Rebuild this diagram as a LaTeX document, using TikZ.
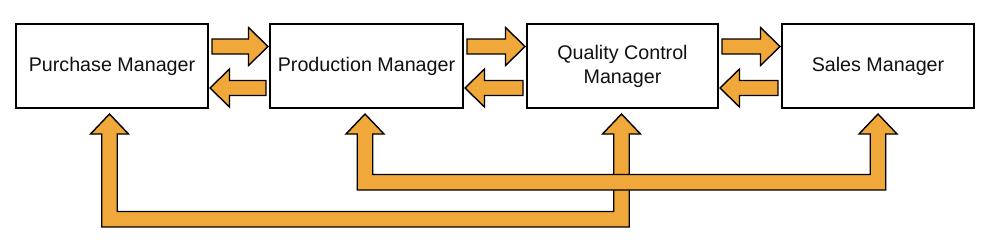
\documentclass[tikz,border=0pt]{standalone}
\usepackage{fontspec}
\setmainfont{Liberation Sans}
\usetikzlibrary{calc}
\definecolor{fatorange}{RGB}{240,168,58}
\definecolor{inkblack}{RGB}{17,17,17}
\tikzset{
  box/.style={draw=black, line width=2pt, fill=white, minimum width=192pt,
    minimum height=84pt, inner sep=2pt, align=center, text=inkblack,
    font=\fontsize{19.7}{24}\selectfont},
  fat/.style={draw=black, line width=1.4pt, fill=fatorange, line join=miter}
}
% horizontal fat arrow: #1 tail point, #2 tip point (same height)
\newcommand\hfat[2]{%
  \draw[fat] let \p1=(#1), \p2=(#2), \p3=($(#2)!19.5pt!(#1)$) in
    (\x1,\y1+7.5pt) -- (\x3,\y1+7.5pt) -- (\x3,\y1+19pt) -- (\x2,\y2)
    -- (\x3,\y1-19pt) -- (\x3,\y1-7.5pt) -- (\x1,\y1-7.5pt) -- cycle;}
% U-shaped fat arrow with two upward heads: #1 left tip, #2 right tip, #3 depth of band bottom below tips
\newcommand\ufat[3]{%
  \draw[fat] let \p1=(#1), \p2=(#2) in
    (\x1,\y1) -- (\x1+19pt,\y1-20pt) -- (\x1+7.75pt,\y1-20pt)
    -- (\x1+7.75pt,\y1-#3+15.5pt) -- (\x2-7.75pt,\y1-#3+15.5pt)
    -- (\x2-7.75pt,\y2-20pt) -- (\x2-19pt,\y2-20pt) -- (\x2,\y2)
    -- (\x2+19pt,\y2-20pt) -- (\x2+7.75pt,\y2-20pt) -- (\x2+7.75pt,\y1-#3)
    -- (\x1-7.75pt,\y1-#3) -- (\x1-7.75pt,\y1-20pt) -- (\x1-19pt,\y1-20pt) -- cycle;}
\begin{document}
\begin{tikzpicture}[x=1pt,y=-1pt]
\useasboundingbox (0,0) rectangle (992,244);
\node[box] (p) at (112,66) {Purchase Manager};
\node[box, minimum width=193pt] (d) at (366.5,66) {Production Manager};
\node[box, minimum width=191pt] (q) at (622.5,66) {Quality Control\\Manager};
\node[box] (s) at (878,66) {Sales Manager};
% horizontal arrows
\hfat{$(p.east)+(3,-19.5)$}{$(d.west)+(-1,-19.5)$}
\hfat{$(d.west)+(-3,22)$}{$(p.east)+(1,22)$}
\hfat{$(d.east)+(3,-19.5)$}{$(q.west)+(-1,-19.5)$}
\hfat{$(q.west)+(-3,22)$}{$(d.east)+(1,22)$}
\hfat{$(q.east)+(3,-19.5)$}{$(s.west)+(-1,-19.5)$}
\hfat{$(s.west)+(-3,22)$}{$(q.east)+(1,22)$}
% bottom U arrows
\ufat{$(p.south)+(-2.5,5)$}{$(q.south)+(-1,5)$}{113pt}
\ufat{$(d.south)+(-1.5,5)$}{$(s.south)+(0,5)$}{76pt}
\end{tikzpicture}
\end{document}
